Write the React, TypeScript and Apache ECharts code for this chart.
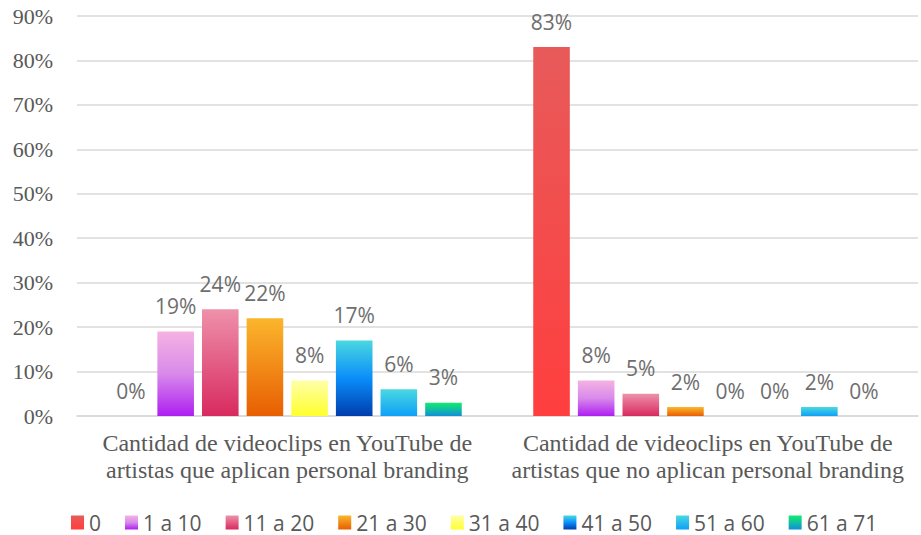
import React, { useEffect, useRef } from "react";
import * as echarts from "echarts";

const categories = [
  "Cantidad de videoclips en YouTube de\nartistas que aplican personal branding",
  "Cantidad de videoclips en YouTube de\nartistas que no aplican personal branding",
];
const seriesNames = ["0", "1 a 10", "11 a 20", "21 a 30", "31 a 40", "41 a 50", "51 a 60", "61 a 71"];
const s0 = [0, 83];
const s1a10 = [19, 8];
const s11a20 = [24, 5];
const s21a30 = [22, 2];
const s31a40 = [8, 0];
const s41a50 = [17, 0];
const s51a60 = [6, 2];
const s61a71 = [3, 0];
const seriesValues = [s0, s1a10, s11a20, s21a30, s31a40, s41a50, s51a60, s61a71];
const yTicks = { min: 0, max: 90, interval: 10 };

const gradients: [number, string][][] = [
  [[0, "#E85A5A"], [1, "#FF3E3E"]],
  [[0, "#F5B2E2"], [0.5, "#D88AEA"], [1, "#AE1EF2"]],
  [[0, "#EE91AA"], [1, "#D82A5E"]],
  [[0, "#FBB62C"], [1, "#E85E02"]],
  [[0, "#FFFFA8"], [1, "#FFFF2E"]],
  [[0, "#4AD8E0"], [0.5, "#0A8EFA"], [1, "#003DAE"]],
  [[0, "#4AD8E0"], [1, "#0EA0F8"]],
  [[0, "#12EC6E"], [0.5, "#10C0A0"], [1, "#108ED8"]],
];

export default function App() {
  const ref = useRef<HTMLDivElement>(null);
  useEffect(() => {
    if (!ref.current) return;
    const chart = echarts.init(ref.current, undefined, { renderer: "svg" });
    const sans = "'Open Sans', sans-serif";
    const serif = "'Liberation Serif', 'Times New Roman', serif";
    chart.setOption({
      animation: false,
      backgroundColor: "#ffffff",
      textStyle: { fontFamily: serif },
      grid: { left: 77, right: 3, top: 16, bottom: 119, containLabel: false },
      legend: {
        top: 512,
        left: 71,
        padding: 0,
        itemWidth: 13,
        itemHeight: 14,
        itemGap: 24,
        icon: "rect",
        textStyle: { fontFamily: sans, fontSize: 21, lineHeight: 21, color: "#595959" },
        data: seriesNames,
      },
      xAxis: {
        type: "category",
        data: categories,
        axisLine: { show: true, lineStyle: { color: "#D9D9D9", width: 1.5 } },
        axisTick: { show: false },
        axisLabel: {
          interval: 0,
          fontFamily: serif,
          fontSize: 24,
          color: "#595959",
          lineHeight: 27,
          margin: 13,
        },
      },
      yAxis: {
        type: "value",
        min: yTicks.min,
        max: yTicks.max,
        interval: yTicks.interval,
        axisLine: { show: false },
        axisTick: { show: false },
        splitLine: { lineStyle: { color: "#D9D9D9", width: 1.5 } },
        axisLabel: {
          formatter: (v: number) => v + "%",
          fontFamily: serif,
          fontSize: 22,
          color: "#595959",
          margin: 24,
        },
      },
      series: seriesNames.map((name, i) => ({
        name,
        type: "bar",
        data: seriesValues[i],
        barGap: "22%",
        barCategoryGap: "17%",
        itemStyle: {
          color: new echarts.graphic.LinearGradient(
            0, 0, 0, 1,
            gradients[i].map(([offset, color]) => ({ offset, color }))
          ),
        },
        label: {
          show: true,
          position: "top",
          distance: 15,
          formatter: "{c}%",
          fontFamily: sans,
          fontSize: 21,
          color: "#6E6E6E",
        },
      })),
    });
    return () => chart.dispose();
  }, []);
  return (
    <div
      ref={ref}
      style={{ position: "fixed", left: 0, top: 0, width: 921, height: 535 }}
    />
  );
}
